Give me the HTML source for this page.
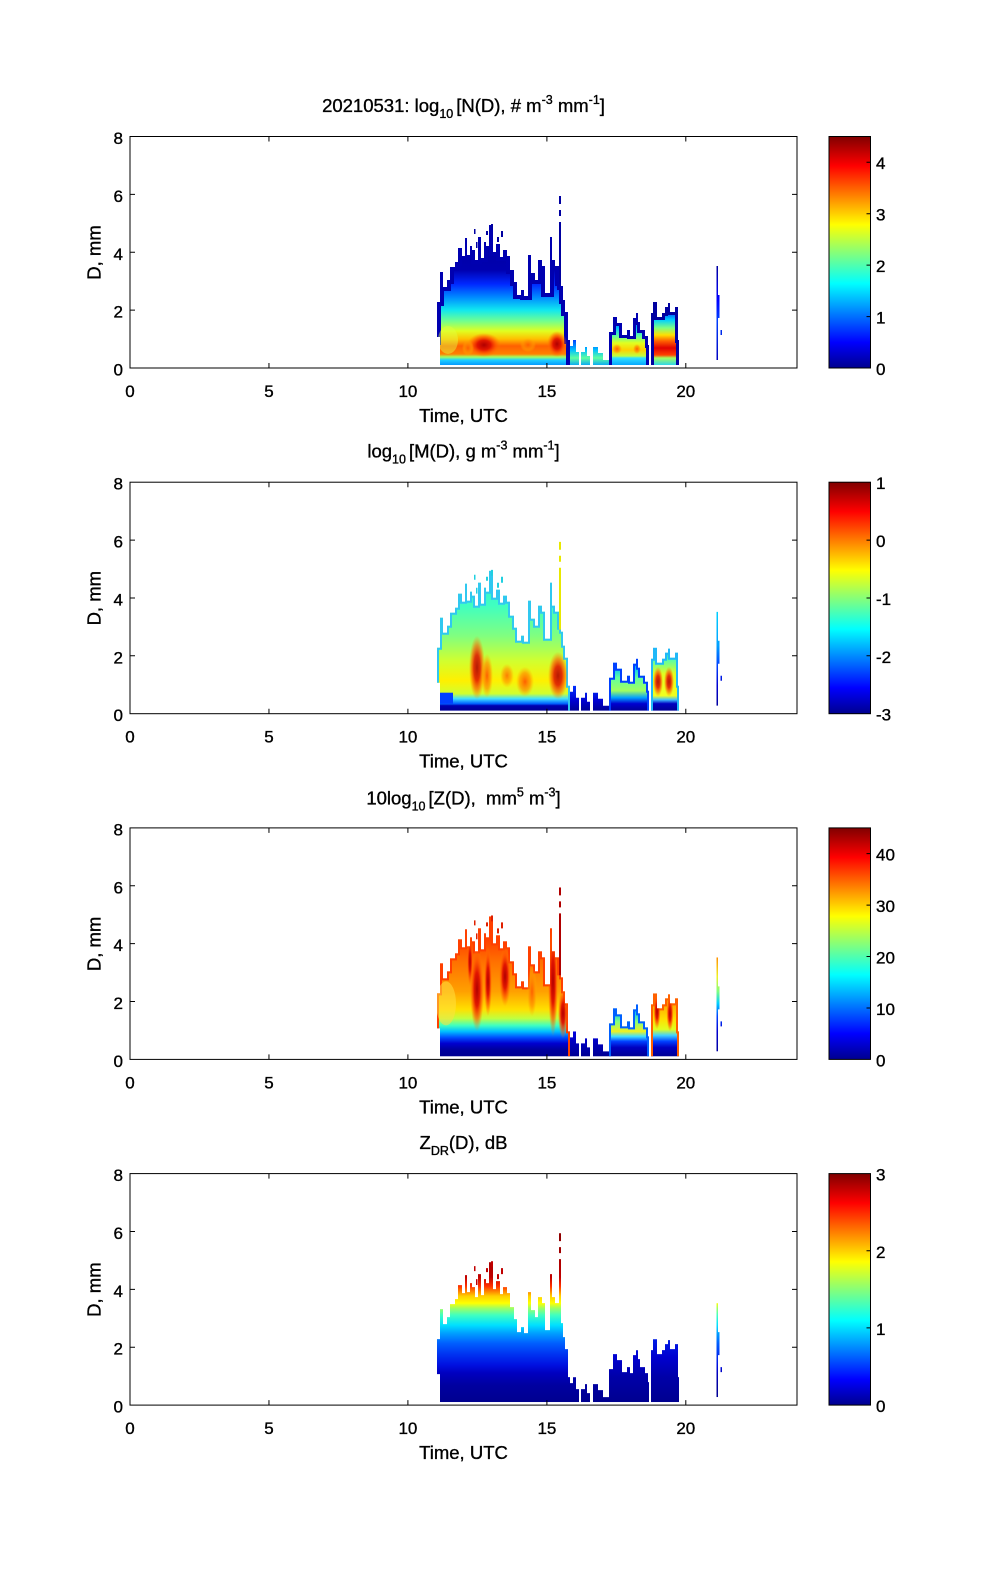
<!DOCTYPE html>
<html><head><meta charset="utf-8"><style>
html,body{margin:0;padding:0;background:#fff;}
svg{display:block;}
text{font-family:"Liberation Sans",Arial,sans-serif;fill:#000;stroke:#000;stroke-width:0.35px;}
</style></head><body>
<svg width="1000" height="1580" viewBox="0 0 1000 1580" xmlns="http://www.w3.org/2000/svg">
<defs>
<linearGradient id="jet" x1="0" y1="1" x2="0" y2="0">
<stop offset="0" stop-color="#00008F"/><stop offset="0.111" stop-color="#0000FF"/><stop offset="0.365" stop-color="#00FFFF"/><stop offset="0.619" stop-color="#FFFF00"/><stop offset="0.873" stop-color="#FF0000"/><stop offset="1" stop-color="#800000"/>
</linearGradient>
<clipPath id="cMain"><path d="M437,345 V302 H440 V272 H443 V287 H447 V280 H450 V267 H455 V262 H458 V248 H462 V256 H465 V238 H467 V255 H470 V246 H472 V250 H475 V260 H478 V237 H481 V258 H484 V242 H486 V246 H489 V225 H493 V252 H496 V244 H500 V257 H503 V250 H507 V256 H510 V270 H514 V282 H517 V295 H521 V290 H524 V296 H528 V255 H531 V273 H535 V280 H538 V260 H542 V266 H545 V293 H550 V237 H552 V260 H555 V266 H559 V282 H561 V286 H563 V300 H565 V312 H568 V340 H570 V365 H440 V337 H437 Z"/></clipPath>
<clipPath id="cB2"><path d="M609,365 V332 H613 V317 H617 V323 H622 V335 H627 V330 H630 V336 H633 V318 H636 V313 H638 V322 H640 V330 H645 V336 H648 V345 H649 V365 Z"/></clipPath>
<clipPath id="cB3"><path d="M651,365 V313 H653 V302 H657 V317 H662 V313 H665 V307 H668 V303 H670 V312 H675 V307 H678 V340 H679 V365 Z"/></clipPath>
<clipPath id="cS"><path d="M570,365 V346 H573 V340 H576 V352 H579 V365 Z M581,365 V352 H585 V347 H587 V356 H590 V365 Z M593,365 V347 H598 V353 H603 V360 H609 V365 Z"/></clipPath>
<clipPath id="cK"><path d="M716.5,360 V266 H718 V295 H719.5 V318 H718 V360 Z M720.5,330 H722 V335 H720.5 Z"/></clipPath>
<clipPath id="cP"><path d="M559,196 h2 v8 h-2 Z M559,210 h2 v6 h-2 Z M559,222 h2 v62 h-2 Z"/></clipPath>
<clipPath id="cD"><path d="M486,231 h2 v4 h-2Z M491,224 h2 v6 h-2Z M501,231 h2 v6 h-2Z M476,242 h1.5 v6 h-1.5Z M497,237 h2 v5 h-2Z M474,229 h1.5 v5 h-1.5Z"/></clipPath>

<radialGradient id="rRed"><stop offset="0" stop-color="#B00000"/><stop offset="0.4" stop-color="#E01000" stop-opacity="0.95"/><stop offset="0.7" stop-color="#FF5000" stop-opacity="0.65"/><stop offset="1" stop-color="#FF8000" stop-opacity="0"/></radialGradient>
<radialGradient id="rOr"><stop offset="0" stop-color="#FF6000"/><stop offset="0.6" stop-color="#FF9000" stop-opacity="0.7"/><stop offset="1" stop-color="#FFB000" stop-opacity="0"/></radialGradient>

<linearGradient id="g1m" gradientUnits="userSpaceOnUse" x1="0" y1="166" x2="0" y2="366">
<stop offset="17%" stop-color="#000090"/><stop offset="52%" stop-color="#0000B0"/><stop offset="59%" stop-color="#0028FF"/><stop offset="66%" stop-color="#0090FF"/><stop offset="72%" stop-color="#10E8F0"/><stop offset="77.5%" stop-color="#70FF90"/><stop offset="82.5%" stop-color="#E0FF20"/><stop offset="86.5%" stop-color="#FFC000"/><stop offset="90%" stop-color="#FF6000"/><stop offset="94%" stop-color="#FF8000"/><stop offset="95.5%" stop-color="#A0FF60"/><stop offset="97%" stop-color="#20D0FF"/><stop offset="100%" stop-color="#0090FF"/>
</linearGradient>
<linearGradient id="g1b2" gradientUnits="userSpaceOnUse" x1="0" y1="166" x2="0" y2="366">
<stop offset="73%" stop-color="#0000A0"/><stop offset="77%" stop-color="#0040FF"/><stop offset="81%" stop-color="#00C0FF"/><stop offset="85%" stop-color="#60FFA0"/><stop offset="88.5%" stop-color="#E0FF20"/><stop offset="92%" stop-color="#FFD000"/><stop offset="95%" stop-color="#C0FF40"/><stop offset="96%" stop-color="#30E0FF"/><stop offset="100%" stop-color="#00A0FF"/>
</linearGradient>
<linearGradient id="g1b3" gradientUnits="userSpaceOnUse" x1="0" y1="166" x2="0" y2="366">
<stop offset="68%" stop-color="#0000A0"/><stop offset="73%" stop-color="#0040FF"/><stop offset="77%" stop-color="#00D0FF"/><stop offset="81%" stop-color="#80FF80"/><stop offset="84.5%" stop-color="#FFE000"/><stop offset="87.5%" stop-color="#FF6000"/><stop offset="91%" stop-color="#E00000"/><stop offset="94.5%" stop-color="#FF4000"/><stop offset="96%" stop-color="#A0FF60"/><stop offset="100%" stop-color="#20D0FF"/>
</linearGradient>
<linearGradient id="g1s" gradientUnits="userSpaceOnUse" x1="0" y1="166" x2="0" y2="366">
<stop offset="87%" stop-color="#0040FF"/><stop offset="92%" stop-color="#00C0FF"/><stop offset="96%" stop-color="#60FFA0"/><stop offset="100%" stop-color="#00A0FF"/>
</linearGradient>
<linearGradient id="g1k" gradientUnits="userSpaceOnUse" x1="0" y1="166" x2="0" y2="366">
<stop offset="50%" stop-color="#0000A0"/><stop offset="67%" stop-color="#0000FF"/><stop offset="77%" stop-color="#0040FF"/><stop offset="97%" stop-color="#0000C0"/>
</linearGradient>

<linearGradient id="g2m" gradientUnits="userSpaceOnUse" x1="0" y1="166" x2="0" y2="366">
<stop offset="17%" stop-color="#20E0F0"/><stop offset="47%" stop-color="#40FFC0"/><stop offset="62%" stop-color="#80FF80"/><stop offset="74.5%" stop-color="#D0FF30"/><stop offset="84.5%" stop-color="#FFF000"/><stop offset="91%" stop-color="#D0FF30"/><stop offset="93.5%" stop-color="#40E0FF"/><stop offset="96%" stop-color="#0060FF"/><stop offset="97%" stop-color="#0000B0"/><stop offset="100%" stop-color="#00008F"/>
</linearGradient>
<linearGradient id="g2b2" gradientUnits="userSpaceOnUse" x1="0" y1="166" x2="0" y2="366">
<stop offset="73.5%" stop-color="#0050FF"/><stop offset="78%" stop-color="#00C0FF"/><stop offset="83%" stop-color="#60FFA0"/><stop offset="89.5%" stop-color="#A0FF60"/><stop offset="93%" stop-color="#00A0FF"/><stop offset="96%" stop-color="#0000D0"/><stop offset="100%" stop-color="#00008F"/>
</linearGradient>
<linearGradient id="g2b3" gradientUnits="userSpaceOnUse" x1="0" y1="166" x2="0" y2="366">
<stop offset="68%" stop-color="#00B0FF"/><stop offset="74.5%" stop-color="#60FFA0"/><stop offset="81%" stop-color="#E0FF20"/><stop offset="92%" stop-color="#F0FF20"/><stop offset="94%" stop-color="#40C0FF"/><stop offset="96%" stop-color="#0000C0"/><stop offset="100%" stop-color="#00008F"/>
</linearGradient>
<linearGradient id="g2s" gradientUnits="userSpaceOnUse" x1="0" y1="166" x2="0" y2="366">
<stop offset="87%" stop-color="#0030FF"/><stop offset="94.5%" stop-color="#0000D0"/><stop offset="100%" stop-color="#00008F"/>
</linearGradient>
<linearGradient id="g2k" gradientUnits="userSpaceOnUse" x1="0" y1="166" x2="0" y2="366">
<stop offset="50%" stop-color="#00D0FF"/><stop offset="67%" stop-color="#00A0FF"/><stop offset="77%" stop-color="#0040FF"/><stop offset="87%" stop-color="#0000D0"/><stop offset="97%" stop-color="#00009F"/>
</linearGradient>

<linearGradient id="g3m" gradientUnits="userSpaceOnUse" x1="0" y1="166" x2="0" y2="366">
<stop offset="17%" stop-color="#E00000"/><stop offset="37%" stop-color="#FF3000"/><stop offset="52%" stop-color="#FF7000"/><stop offset="67%" stop-color="#FFA000"/><stop offset="76%" stop-color="#FFE000"/><stop offset="80.5%" stop-color="#C0FF40"/><stop offset="84%" stop-color="#40FFC0"/><stop offset="87%" stop-color="#00C0FF"/><stop offset="90%" stop-color="#0050FF"/><stop offset="93%" stop-color="#0000D0"/><stop offset="96%" stop-color="#00009F"/><stop offset="100%" stop-color="#00008F"/>
</linearGradient>
<linearGradient id="g3b2" gradientUnits="userSpaceOnUse" x1="0" y1="166" x2="0" y2="366">
<stop offset="73.5%" stop-color="#0040FF"/><stop offset="77%" stop-color="#00C0FF"/><stop offset="82%" stop-color="#80FF80"/><stop offset="87%" stop-color="#F0F020"/><stop offset="89.5%" stop-color="#40E0FF"/><stop offset="92%" stop-color="#0040FF"/><stop offset="95%" stop-color="#0000C0"/><stop offset="100%" stop-color="#00008F"/>
</linearGradient>
<linearGradient id="g3b3" gradientUnits="userSpaceOnUse" x1="0" y1="166" x2="0" y2="366">
<stop offset="68%" stop-color="#FF8000"/><stop offset="74.5%" stop-color="#FFB000"/><stop offset="81%" stop-color="#FFE000"/><stop offset="86%" stop-color="#E0FF20"/><stop offset="89%" stop-color="#40D0FF"/><stop offset="92%" stop-color="#0040FF"/><stop offset="95%" stop-color="#0000C0"/><stop offset="100%" stop-color="#00008F"/>
</linearGradient>
<linearGradient id="g3s" gradientUnits="userSpaceOnUse" x1="0" y1="166" x2="0" y2="366">
<stop offset="87%" stop-color="#0000E0"/><stop offset="100%" stop-color="#00008F"/>
</linearGradient>
<linearGradient id="g3k" gradientUnits="userSpaceOnUse" x1="0" y1="166" x2="0" y2="366">
<stop offset="50%" stop-color="#FF9000"/><stop offset="59.5%" stop-color="#F0F020"/><stop offset="67%" stop-color="#80FF80"/><stop offset="73%" stop-color="#00D0FF"/><stop offset="79.5%" stop-color="#0040FF"/><stop offset="87%" stop-color="#0000D0"/><stop offset="97%" stop-color="#00009F"/>
</linearGradient>

<linearGradient id="g4" gradientUnits="userSpaceOnUse" x1="0" y1="166" x2="0" y2="366">
<stop offset="17%" stop-color="#900000"/><stop offset="37%" stop-color="#C00000"/><stop offset="41.5%" stop-color="#FF3000"/><stop offset="44%" stop-color="#FF8000"/><stop offset="46.5%" stop-color="#FFD000"/><stop offset="50%" stop-color="#FFFF00"/><stop offset="52.5%" stop-color="#A0FF60"/><stop offset="56%" stop-color="#40FFC0"/><stop offset="61%" stop-color="#00E0FF"/><stop offset="65%" stop-color="#00A0FF"/><stop offset="70%" stop-color="#0060FF"/><stop offset="76%" stop-color="#0030F0"/><stop offset="81%" stop-color="#0010E0"/><stop offset="85%" stop-color="#0000C0"/><stop offset="91%" stop-color="#0000A0"/><stop offset="100%" stop-color="#00008F"/>
</linearGradient>
<linearGradient id="g4s" gradientUnits="userSpaceOnUse" x1="0" y1="166" x2="0" y2="366">
<stop offset="67%" stop-color="#0020E8"/><stop offset="77%" stop-color="#0000D0"/><stop offset="87%" stop-color="#0000A8"/><stop offset="100%" stop-color="#00008F"/>
</linearGradient>
</defs>

<rect x="0" y="0" width="1000" height="1580" fill="#fff"/>

<!-- ================= PANEL 1 ================= -->
<g transform="translate(0,0)">
<rect x="430" y="180" width="145" height="190" fill="url(#g1m)" clip-path="url(#cMain)"/>
<path d="M437,345 V302 H440 V272 H443 V287 H447 V280 H450 V267 H455 V262 H458 V248 H462 V256 H465 V238 H467 V255 H470 V246 H472 V250 H475 V260 H478 V237 H481 V258 H484 V242 H486 V246 H489 V225 H493 V252 H496 V244 H500 V257 H503 V250 H507 V256 H510 V270 H514 V282 H517 V295 H521 V290 H524 V296 H528 V255 H531 V273 H535 V280 H538 V260 H542 V266 H545 V293 H550 V237 H552 V260 H555 V266 H559 V282 H561 V286 H563 V300 H565 V312 H568 V340 H570 V365" fill="none" stroke="#0000B0" stroke-width="8" clip-path="url(#cMain)"/>
<g clip-path="url(#cMain)">
<ellipse cx="448" cy="340" rx="10" ry="14" fill="#E0FF40" opacity="0.45"/>
<ellipse cx="484" cy="345" rx="17" ry="12" fill="url(#rRed)"/>
<ellipse cx="557" cy="344" rx="10" ry="13" fill="url(#rRed)"/>
<ellipse cx="528" cy="345" rx="8" ry="7" fill="url(#rOr)"/>
<ellipse cx="468" cy="348" rx="6" ry="8" fill="url(#rOr)"/>
</g>
<rect x="600" y="290" width="60" height="80" fill="url(#g1b2)" clip-path="url(#cB2)"/>
<path d="M609,365 V332 H613 V317 H617 V323 H622 V335 H627 V330 H630 V336 H633 V318 H636 V313 H638 V322 H640 V330 H645 V336 H648 V345 H649 V365" fill="none" stroke="#0000B0" stroke-width="6" clip-path="url(#cB2)"/>
<g clip-path="url(#cB2)"><ellipse cx="617" cy="349" rx="5" ry="5" fill="url(#rOr)"/><ellipse cx="637" cy="349" rx="4" ry="5" fill="url(#rOr)"/></g>
<rect x="645" y="290" width="40" height="80" fill="url(#g1b3)" clip-path="url(#cB3)"/>
<path d="M651,365 V313 H653 V302 H657 V317 H662 V313 H665 V307 H668 V303 H670 V312 H675 V307 H678 V340 H679 V365" fill="none" stroke="#0000A0" stroke-width="6" clip-path="url(#cB3)"/>
<rect x="565" y="330" width="50" height="40" fill="url(#g1s)" clip-path="url(#cS)"/>
<rect x="710" y="260" width="20" height="110" fill="url(#g1k)" clip-path="url(#cK)"/>
<rect x="555" y="190" width="10" height="100" fill="#0000A0" clip-path="url(#cP)"/>
<rect x="470" y="220" width="40" height="30" fill="#0000A0" clip-path="url(#cD)"/>

<rect x="130" y="136.5" width="667" height="231.5" fill="none" stroke="#000" stroke-width="1"/>
<path d="M268.96,368v-5M407.9,368v-5M546.9,368v-5M685.8,368v-5M268.96,136.5v5M407.9,136.5v5M546.9,136.5v5M685.8,136.5v5M130,310.1h5M130,252.25h5M130,194.4h5M797,310.1h-5M797,252.25h-5M797,194.4h-5" stroke="#000" stroke-width="1" fill="none"/>
<g font-size="17" text-anchor="middle">
<text x="130" y="397">0</text><text x="268.96" y="397">5</text><text x="407.9" y="397">10</text><text x="546.9" y="397">15</text><text x="685.8" y="397">20</text>
</g>
<g font-size="17" text-anchor="end">
<text x="123" y="375.5">0</text><text x="123" y="317.6">2</text><text x="123" y="259.8">4</text><text x="123" y="201.9">6</text><text x="123" y="144">8</text>
</g>
<text x="463.5" y="422" font-size="18.5" text-anchor="middle">Time, UTC</text>
<text transform="translate(100.5,252.5) rotate(-90)" font-size="18.5" text-anchor="middle">D, mm</text>
<text x="463.5" y="112" font-size="18.5" text-anchor="middle">20210531: log<tspan font-size="12.5" dy="6">10</tspan><tspan dy="-6" dx="3">[N(D), # m</tspan><tspan font-size="12.5" dy="-8">-3</tspan><tspan dy="8"> mm</tspan><tspan font-size="12.5" dy="-8">-1</tspan><tspan dy="8">]</tspan></text>
<rect x="829" y="136.5" width="41.5" height="231.5" fill="url(#jet)" stroke="#000" stroke-width="1"/>
<path d="M870.5,162.2h-4M870.5,213.7h-4M870.5,265.1h-4M870.5,316.6h-4" stroke="#000" fill="none"/>
<g font-size="17"><text x="876" y="169.2">4</text><text x="876" y="220.7">3</text><text x="876" y="272.1">2</text><text x="876" y="323.6">1</text><text x="876" y="375">0</text></g>
</g>

<!-- ================= PANEL 2 ================= -->
<g transform="translate(0,345.7)">
<rect x="430" y="180" width="145" height="190" fill="url(#g2m)" clip-path="url(#cMain)"/>
<path d="M437,345 V302 H440 V272 H443 V287 H447 V280 H450 V267 H455 V262 H458 V248 H462 V256 H465 V238 H467 V255 H470 V246 H472 V250 H475 V260 H478 V237 H481 V258 H484 V242 H486 V246 H489 V225 H493 V252 H496 V244 H500 V257 H503 V250 H507 V256 H510 V270 H514 V282 H517 V295 H521 V290 H524 V296 H528 V255 H531 V273 H535 V280 H538 V260 H542 V266 H545 V293 H550 V237 H552 V260 H555 V266 H559 V282 H561 V286 H563 V300 H565 V312 H568 V340 H570 V365" fill="none" stroke="#30C8F0" stroke-width="4" clip-path="url(#cMain)"/>
<g clip-path="url(#cMain)">
<ellipse cx="477" cy="322" rx="8" ry="32" fill="url(#rRed)" opacity="0.9"/>
<ellipse cx="487" cy="330" rx="6" ry="22" fill="url(#rOr)"/>
<ellipse cx="525" cy="336" rx="9" ry="15" fill="url(#rOr)"/>
<ellipse cx="507" cy="330" rx="7" ry="12" fill="url(#rOr)" opacity="0.8"/>
<ellipse cx="558" cy="330" rx="10" ry="24" fill="url(#rRed)" opacity="0.9"/>
<rect x="437" y="347" width="16" height="11" fill="#0040FF"/>
</g>
<rect x="600" y="290" width="60" height="80" fill="url(#g2b2)" clip-path="url(#cB2)"/>
<path d="M609,365 V332 H613 V317 H617 V323 H622 V335 H627 V330 H630 V336 H633 V318 H636 V313 H638 V322 H640 V330 H645 V336 H648 V345 H649 V365" fill="none" stroke="#0040FF" stroke-width="4" clip-path="url(#cB2)"/>
<rect x="645" y="290" width="40" height="80" fill="url(#g2b3)" clip-path="url(#cB3)"/>
<path d="M651,365 V313 H653 V302 H657 V317 H662 V313 H665 V307 H668 V303 H670 V312 H675 V307 H678 V340 H679 V365" fill="none" stroke="#20B8F8" stroke-width="4" clip-path="url(#cB3)"/>
<g clip-path="url(#cB3)"><ellipse cx="658" cy="336" rx="5" ry="15" fill="url(#rRed)" opacity="0.9"/><ellipse cx="669" cy="336" rx="5" ry="15" fill="url(#rRed)" opacity="0.9"/></g>
<rect x="565" y="330" width="50" height="40" fill="url(#g2s)" clip-path="url(#cS)"/>
<rect x="710" y="260" width="20" height="110" fill="url(#g2k)" clip-path="url(#cK)"/>
<rect x="555" y="190" width="10" height="100" fill="#E8E800" clip-path="url(#cP)"/>
<rect x="470" y="220" width="40" height="30" fill="#20D0E0" clip-path="url(#cD)"/>

<rect x="130" y="136.5" width="667" height="231.5" fill="none" stroke="#000" stroke-width="1"/>
<path d="M268.96,368v-5M407.9,368v-5M546.9,368v-5M685.8,368v-5M268.96,136.5v5M407.9,136.5v5M546.9,136.5v5M685.8,136.5v5M130,310.1h5M130,252.25h5M130,194.4h5M797,310.1h-5M797,252.25h-5M797,194.4h-5" stroke="#000" stroke-width="1" fill="none"/>
<g font-size="17" text-anchor="middle">
<text x="130" y="397">0</text><text x="268.96" y="397">5</text><text x="407.9" y="397">10</text><text x="546.9" y="397">15</text><text x="685.8" y="397">20</text>
</g>
<g font-size="17" text-anchor="end">
<text x="123" y="375.5">0</text><text x="123" y="317.6">2</text><text x="123" y="259.8">4</text><text x="123" y="201.9">6</text><text x="123" y="144">8</text>
</g>
<text x="463.5" y="422" font-size="18.5" text-anchor="middle">Time, UTC</text>
<text transform="translate(100.5,252.5) rotate(-90)" font-size="18.5" text-anchor="middle">D, mm</text>
<text x="463.5" y="112" font-size="18.5" text-anchor="middle">log<tspan font-size="12.5" dy="6">10</tspan><tspan dy="-6" dx="3">[M(D), g m</tspan><tspan font-size="12.5" dy="-8">-3</tspan><tspan dy="8"> mm</tspan><tspan font-size="12.5" dy="-8">-1</tspan><tspan dy="8">]</tspan></text>
<rect x="829" y="136.5" width="41.5" height="231.5" fill="url(#jet)" stroke="#000" stroke-width="1"/>
<path d="M870.5,194.4h-4M870.5,252.25h-4M870.5,310.1h-4" stroke="#000" fill="none"/>
<g font-size="17"><text x="876" y="143.5">1</text><text x="876" y="201.4">0</text><text x="876" y="259.3">-1</text><text x="876" y="317.1">-2</text><text x="876" y="375">-3</text></g>
</g>

<!-- ================= PANEL 3 ================= -->
<g transform="translate(0,691.4)">
<rect x="430" y="180" width="145" height="190" fill="url(#g3m)" clip-path="url(#cMain)"/>
<path d="M437,345 V302 H440 V272 H443 V287 H447 V280 H450 V267 H455 V262 H458 V248 H462 V256 H465 V238 H467 V255 H470 V246 H472 V250 H475 V260 H478 V237 H481 V258 H484 V242 H486 V246 H489 V225 H493 V252 H496 V244 H500 V257 H503 V250 H507 V256 H510 V270 H514 V282 H517 V295 H521 V290 H524 V296 H528 V255 H531 V273 H535 V280 H538 V260 H542 V266 H545 V293 H550 V237 H552 V260 H555 V266 H559 V282 H561 V286 H563 V300 H565 V312 H568 V340 H570 V365" fill="none" stroke="#FF4000" stroke-width="4" clip-path="url(#cMain)"/>
<g clip-path="url(#cMain)">
<ellipse cx="446" cy="312" rx="10" ry="22" fill="#FFE040" opacity="0.55"/>
<ellipse cx="477" cy="298" rx="7" ry="42" fill="url(#rRed)"/>
<ellipse cx="488" cy="290" rx="4" ry="35" fill="url(#rRed)"/>
<ellipse cx="470" cy="270" rx="3" ry="25" fill="url(#rRed)"/>
<ellipse cx="505" cy="285" rx="6" ry="30" fill="url(#rRed)"/>
<ellipse cx="532" cy="300" rx="5" ry="25" fill="url(#rOr)"/>
<ellipse cx="553" cy="290" rx="5" ry="55" fill="url(#rRed)"/>
<ellipse cx="563" cy="322" rx="5" ry="25" fill="url(#rRed)"/>
</g>
<rect x="600" y="290" width="60" height="80" fill="url(#g3b2)" clip-path="url(#cB2)"/>
<path d="M609,365 V332 H613 V317 H617 V323 H622 V335 H627 V330 H630 V336 H633 V318 H636 V313 H638 V322 H640 V330 H645 V336 H648 V345 H649 V365" fill="none" stroke="#0060FF" stroke-width="4" clip-path="url(#cB2)"/>
<rect x="645" y="290" width="40" height="80" fill="url(#g3b3)" clip-path="url(#cB3)"/>
<path d="M651,365 V313 H653 V302 H657 V317 H662 V313 H665 V307 H668 V303 H670 V312 H675 V307 H678 V340 H679 V365" fill="none" stroke="#FF6000" stroke-width="4" clip-path="url(#cB3)"/>
<g clip-path="url(#cB3)"><ellipse cx="657" cy="320" rx="3.5" ry="18" fill="url(#rRed)"/><ellipse cx="670" cy="322" rx="3.5" ry="18" fill="url(#rRed)"/></g>
<rect x="565" y="330" width="50" height="40" fill="url(#g3s)" clip-path="url(#cS)"/>
<rect x="710" y="260" width="20" height="110" fill="url(#g3k)" clip-path="url(#cK)"/>
<rect x="555" y="190" width="10" height="100" fill="#B00000" clip-path="url(#cP)"/>
<rect x="470" y="220" width="40" height="30" fill="#E02000" clip-path="url(#cD)"/>

<rect x="130" y="136.5" width="667" height="231.5" fill="none" stroke="#000" stroke-width="1"/>
<path d="M268.96,368v-5M407.9,368v-5M546.9,368v-5M685.8,368v-5M268.96,136.5v5M407.9,136.5v5M546.9,136.5v5M685.8,136.5v5M130,310.1h5M130,252.25h5M130,194.4h5M797,310.1h-5M797,252.25h-5M797,194.4h-5" stroke="#000" stroke-width="1" fill="none"/>
<g font-size="17" text-anchor="middle">
<text x="130" y="397">0</text><text x="268.96" y="397">5</text><text x="407.9" y="397">10</text><text x="546.9" y="397">15</text><text x="685.8" y="397">20</text>
</g>
<g font-size="17" text-anchor="end">
<text x="123" y="375.5">0</text><text x="123" y="317.6">2</text><text x="123" y="259.8">4</text><text x="123" y="201.9">6</text><text x="123" y="144">8</text>
</g>
<text x="463.5" y="422" font-size="18.5" text-anchor="middle">Time, UTC</text>
<text transform="translate(100.5,252.5) rotate(-90)" font-size="18.5" text-anchor="middle">D, mm</text>
<text x="463.5" y="113" font-size="18.5" text-anchor="middle">10log<tspan font-size="12.5" dy="6">10</tspan><tspan dy="-6" dx="3">[Z(D),&#160; mm</tspan><tspan font-size="12.5" dy="-8">5</tspan><tspan dy="8"> m</tspan><tspan font-size="12.5" dy="-8">-3</tspan><tspan dy="8">]</tspan></text>
<rect x="829" y="136.5" width="41.5" height="231.5" fill="url(#jet)" stroke="#000" stroke-width="1"/>
<path d="M870.5,162.2h-4M870.5,213.7h-4M870.5,265.1h-4M870.5,316.6h-4" stroke="#000" fill="none"/>
<g font-size="17"><text x="876" y="169.2">40</text><text x="876" y="220.7">30</text><text x="876" y="272.1">20</text><text x="876" y="323.6">10</text><text x="876" y="375">0</text></g>
</g>

<!-- ================= PANEL 4 ================= -->
<g transform="translate(0,1037.1)">
<rect x="430" y="180" width="145" height="190" fill="url(#g4)" clip-path="url(#cMain)"/>
<rect x="600" y="290" width="60" height="80" fill="url(#g4s)" clip-path="url(#cB2)"/>
<rect x="645" y="290" width="40" height="80" fill="url(#g4s)" clip-path="url(#cB3)"/>
<rect x="565" y="330" width="50" height="40" fill="url(#g4s)" clip-path="url(#cS)"/>
<rect x="710" y="260" width="20" height="110" fill="url(#g4)" clip-path="url(#cK)"/>
<rect x="555" y="190" width="10" height="100" fill="url(#g4)" clip-path="url(#cP)"/>
<rect x="470" y="220" width="40" height="30" fill="#C00000" clip-path="url(#cD)"/>

<rect x="130" y="136.5" width="667" height="231.5" fill="none" stroke="#000" stroke-width="1"/>
<path d="M268.96,368v-5M407.9,368v-5M546.9,368v-5M685.8,368v-5M268.96,136.5v5M407.9,136.5v5M546.9,136.5v5M685.8,136.5v5M130,310.1h5M130,252.25h5M130,194.4h5M797,310.1h-5M797,252.25h-5M797,194.4h-5" stroke="#000" stroke-width="1" fill="none"/>
<g font-size="17" text-anchor="middle">
<text x="130" y="397">0</text><text x="268.96" y="397">5</text><text x="407.9" y="397">10</text><text x="546.9" y="397">15</text><text x="685.8" y="397">20</text>
</g>
<g font-size="17" text-anchor="end">
<text x="123" y="375.5">0</text><text x="123" y="317.6">2</text><text x="123" y="259.8">4</text><text x="123" y="201.9">6</text><text x="123" y="144">8</text>
</g>
<text x="463.5" y="422" font-size="18.5" text-anchor="middle">Time, UTC</text>
<text transform="translate(100.5,252.5) rotate(-90)" font-size="18.5" text-anchor="middle">D, mm</text>
<text x="463.5" y="112" font-size="18.5" text-anchor="middle">Z<tspan font-size="12.5" dy="6">DR</tspan><tspan dy="-6">(D), dB</tspan></text>
<rect x="829" y="136.5" width="41.5" height="231.5" fill="url(#jet)" stroke="#000" stroke-width="1"/>
<path d="M870.5,213.7h-4M870.5,290.8h-4" stroke="#000" fill="none"/>
<g font-size="17"><text x="876" y="143.5">3</text><text x="876" y="220.7">2</text><text x="876" y="297.8">1</text><text x="876" y="375">0</text></g>
</g>
</svg>
</body></html>
